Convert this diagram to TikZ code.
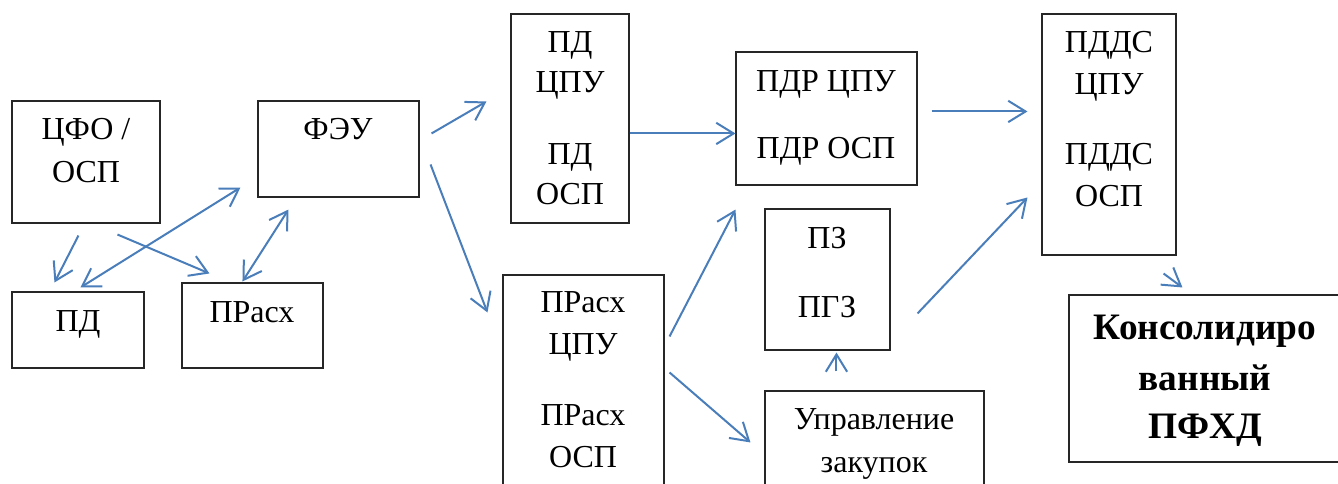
\documentclass[tikz,border=0pt]{standalone}
\usepackage{fontspec}
\setmainfont{Liberation Serif}
\usetikzlibrary{arrows.meta,fit}
\definecolor{arrblue}{RGB}{74,126,187}
\tikzset{
	box/.style={
		draw = black!85,
		line width = 0.8pt,
		inner sep = 0pt
	},
	lbl/.style={
		anchor = base,
		inner sep = 0pt,
		font = \fontsize{24}{29}\selectfont
	},
	blbl/.style={
		anchor = base,
		inner sep = 0pt,
		font = \fontsize{28}{34}\selectfont\bfseries
	},
	arr/.style={
		draw = arrblue,
		line width = 1.5pt,
		->
	},
}
\tikzset{>={Straight Barb[length=13pt,width=16pt]}}

\begin{document}
\begin{tikzpicture}[x=0.75pt, y=-0.75pt]
    \useasboundingbox (0,0) rectangle (1338,484);
    % boxes
    \node[box, fit={(12,101) (160,223)}] (cfo) {};
    \node[box, fit={(258,101) (419,197)}] (feu) {};
    \node[box, fit={(12,292) (144,368)}] (pd) {};
    \node[box, fit={(182,283) (323,368)}] (prs) {};
    \node[box, fit={(511,14) (629,223)}] (pdc) {};
    \node[box, fit={(736,52) (917,185)}] (pdr) {};
    \node[box, fit={(503,275) (664,500)}] (prc) {};
    \node[box, fit={(765,209) (890,350)}] (pz) {};
    \node[box, fit={(765,391) (984,500)}] (upr) {};
    \node[box, fit={(1042,14) (1176,255)}] (pdds) {};
    \node[box, fit={(1069,295) (1341,462)}] (kons) {};
    % texts
    \foreach \txt/\x/\y [count=\i] in {{ЦФО /}/86/140, ОСП/86/183, ФЭУ/338/140,
      ПД/78/332, ПРасх/252/323, ПД/570/53, ЦПУ/570/93, ПД/570/165, ОСП/570/205,
      {ПДР ЦПУ}/826/92, {ПДР ОСП}/826/159, ПРасх/583/313, ЦПУ/583/355,
      ПРасх/583/426, ОСП/583/467, ПЗ/827/249, ПГЗ/827/318,
      Управление/874/429, закупок/874/472, ПДДС/1109/53, ЦПУ/1109/95,
      ПДДС/1109/165, ОСП/1109/207}{
      \node[lbl] (l\i) at (\x,\y) {\txt};
    }
    \foreach \txt/\y [count=\i] in {Консолидиро/340, ванный/390, ПФХД/438}{
      \node[blbl] (k\i) at (1205,\y) {\txt};
    }
    % arrows
    \draw[arr] ([shift={(67,12)}]cfo.south west) -- ([shift={(43,-9)}]pd.north west);
    \draw[arr] ([shift={(106,11)}]cfo.south west) -- ([shift={(28,-9)}]prs.north west);
    \draw[arr, <->] ([shift={(69,-4)}]pd.north west) -- ([shift={(-17,-10)}]feu.south west);
    \draw[arr, <->] ([shift={(61,-1)}]prs.north west) -- ([shift={(31,12)}]feu.south west);
    \draw[arr] ([shift={(12,33)}]feu.north east) -- ([shift={(-24,88)}]pdc.north west);
    \draw[arr] ([shift={(11,64)}]feu.north east) -- ([shift={(-15,38)}]prc.north west);
    \draw[arr] ([shift={(0,120)}]pdc.north east) -- ([shift={(0,82)}]pdr.north west);
    \draw[arr] ([shift={(5,62)}]prc.north east) -- ([shift={(0,24)}]pdr.south west);
    \draw[arr] ([shift={(5,98)}]prc.north east) -- ([shift={(-14,52)}]upr.north west);
    \draw[arr] ([shift={(72,-19)}]upr.north west) -- ([shift={(72,2)}]pz.south west);
    \draw[arr] ([shift={(14,60)}]pdr.north east) -- ([shift={(-14,98)}]pdds.north west);
    \draw[arr] ([shift={(27,105)}]pz.north east) -- ([shift={(-14,184)}]pdds.north west);
    \draw[arr] ([shift={(-13,18)}]pdds.south east) -- ([shift={(114,-7)}]kons.north west);
  \end{tikzpicture}
\end{document}
